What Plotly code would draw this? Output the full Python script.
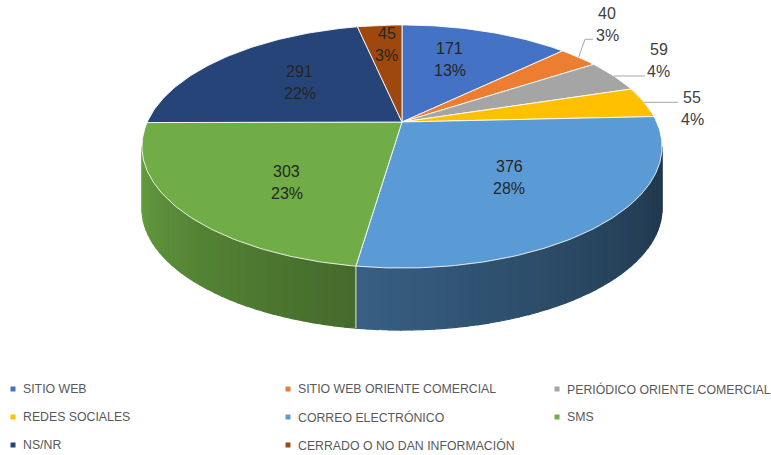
import math
import plotly.graph_objects as go

# ---------------- data ----------------
categories = ["SITIO WEB", "SITIO WEB ORIENTE COMERCIAL", "PERIÓDICO ORIENTE COMERCIAL",
              "REDES SOCIALES", "CORREO ELECTRÓNICO", "SMS", "NS/NR",
              "CERRADO O NO DAN INFORMACIÓN"]
values = [171, 40, 59, 55, 376, 303, 291, 45]

# ---------------- style ----------------
colors = ["#4472C4", "#ED7D31", "#A5A5A5", "#FFC000", "#5B9BD5", "#70AD47", "#264478", "#9E480E"]
label_outside = [False, True, True, True, False, False, False, False]
label_offset = [(-2, -9), (28.5, -33), (45, -15), (48, 6), (5, 4), (-1, 15), (0, -2), (-2, -20)]

W, H = 771, 455
CX, CY = 402.0, 122.0      # pie apex on screen
AX, BY = 254.7, 116.6      # projected radii
PERSP = 0.2016             # perspective strength
DEPTH = 62.0               # thickness of pie
LABEL_FONT = "Liberation Sans, Arial, sans-serif"


def proj(theta_deg, r=1.0, drop=0.0):
    t = math.radians(theta_deg)
    x = r * math.sin(t)
    z = -r * math.cos(t)
    w = 1 - PERSP * z
    return CX + AX * x / w, CY + BY * z / w + drop


def hex_rgb(h):
    h = h.lstrip("#")
    return tuple(int(h[i:i + 2], 16) for i in (0, 2, 4))


def shade(hexcol, f):
    r, g, b = hex_rgb(hexcol)
    return "rgb(%d,%d,%d)" % (min(255, r * f), min(255, g * f), min(255, b * f))


def arc(a0, a1, step=1.0, drop=0.0):
    n = max(2, int(abs(a1 - a0) / step) + 1)
    return [proj(a0 + (a1 - a0) * i / (n - 1), 1.0, drop) for i in range(n)]


total = sum(values)
angles = [0.0]
for v in values:
    angles.append(angles[-1] + 360.0 * v / total)

fig = go.Figure()

# ---- visible side walls (front half), shaded strips ----
vis_r = math.degrees(math.acos(-PERSP))
vis_l = 360 - vis_r
for i, c in enumerate(colors):
    a0, a1 = max(angles[i], vis_r), min(angles[i + 1], vis_l)
    if a1 <= a0:
        continue
    n = max(2, int((a1 - a0) / 2.0) + 1)
    ts = [a0 + (a1 - a0) * k / (n - 1) for k in range(n)]
    for k in range(n - 1):
        tm = 0.5 * (ts[k] + ts[k + 1])
        t = (tm - vis_r) / (vis_l - vis_r)
        f = 0.36 + 0.56 * t ** 1.3
        col = shade(c, f)
        p0 = proj(ts[k]); p1 = proj(ts[k + 1])
        q1 = proj(ts[k + 1], drop=DEPTH); q0 = proj(ts[k], drop=DEPTH)
        fig.add_trace(go.Scatter(
            x=[p0[0], p1[0], q1[0], q0[0], p0[0]],
            y=[p0[1], p1[1], q1[1], q0[1], p0[1]],
            mode="lines", fill="toself", fillcolor=col,
            line=dict(color=col, width=1.2), hoverinfo="skip", showlegend=False))

# seams between side walls
for a in angles:
    if vis_r < a < vis_l:
        p = proj(a); q = proj(a, drop=DEPTH)
        fig.add_trace(go.Scatter(x=[p[0], q[0]], y=[p[1], q[1]], mode="lines",
                                 line=dict(color="rgba(255,255,255,0.85)", width=1),
                                 hoverinfo="skip", showlegend=False))

# ---- top faces ----
for i, c in enumerate(colors):
    pts = [(CX, CY)] + arc(angles[i], angles[i + 1]) + [(CX, CY)]
    fig.add_trace(go.Scatter(
        x=[p[0] for p in pts], y=[p[1] for p in pts],
        mode="lines", fill="toself", fillcolor=c,
        line=dict(color="rgba(255,255,255,0.85)", width=1),
        name=categories[i], hoverinfo="name", showlegend=False))

# ---- data labels ----
annotations = []
for i, v in enumerate(values):
    mid = 0.5 * (angles[i] + angles[i + 1])
    pct = "%d%%" % round(100.0 * v / total)
    dx, dy = label_offset[i]
    if label_outside[i]:
        ax_, ay_ = proj(mid, 1.0)
        lx, ly = ax_ + dx, ay_ + dy
        ex = lx - 14
        ey = min(max(ay_, ly - 15), ly + 15)
        fig.add_trace(go.Scatter(x=[ax_, ex - 8, ex], y=[ay_, ey, ey], mode="lines",
                                 line=dict(color="#A6A6A6", width=1),
                                 hoverinfo="skip", showlegend=False))
        tcol = "#404040"
    else:
        px, py = proj(mid, 0.55)
        lx, ly = px + dx, py + dy
        tcol = "#262626"
    for txt, off in ((str(v), -11), (pct, 11)):
        annotations.append(dict(x=lx, y=ly + off, xref="x", yref="y", text=txt,
                                showarrow=False, xanchor="center", yanchor="middle",
                                font=dict(family=LABEL_FONT, size=16, color=tcol)))

# ---- legend (3 columns) ----
col_x = [13, 288, 557]
row_y = [389, 417, 445]
lx_list, ly_list = [], []
for i, name in enumerate(categories):
    x0 = col_x[i % 3]; y0 = row_y[i // 3]
    lx_list.append(x0); ly_list.append(y0)
    annotations.append(dict(x=x0 + 8, y=y0, xref="x", yref="y", text=name,
                            showarrow=False, xanchor="left", yanchor="middle",
                            font=dict(family=LABEL_FONT, size=12.3, color="#595959")))
fig.add_trace(go.Scatter(x=lx_list, y=ly_list, mode="markers",
                         marker=dict(symbol="square", size=5, color=colors),
                         hoverinfo="skip", showlegend=False))

fig.update_layout(
    width=W, height=H, margin=dict(l=0, r=0, t=0, b=0),
    paper_bgcolor="white", plot_bgcolor="white",
    xaxis=dict(range=[0, W], visible=False, fixedrange=True),
    yaxis=dict(range=[H, 0], visible=False, fixedrange=True),
    annotations=annotations, showlegend=False,
)

fig.write_html("out.html", config={"displayModeBar": False},
               post_script="document.body.style.margin='0';document.body.style.overflow='hidden';")
